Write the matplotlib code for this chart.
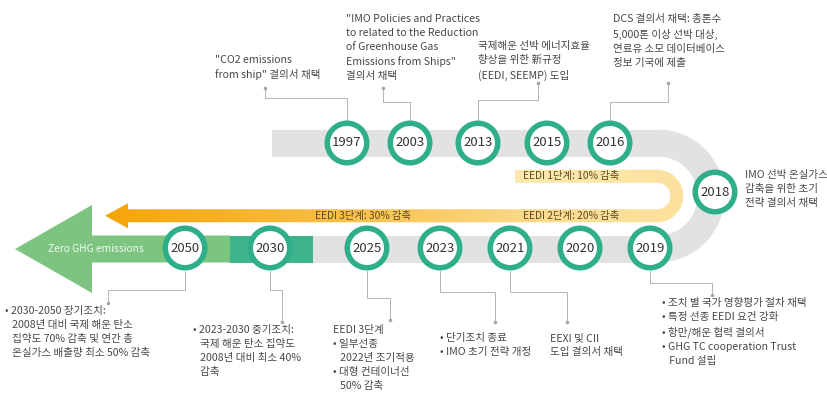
import numpy as np
import matplotlib.pyplot as plt
from matplotlib.patches import Circle, Rectangle, Wedge, Polygon
from matplotlib.colors import LinearSegmentedColormap

plt.rcParams['font.family'] = ['Noto Sans CJK KR', 'DejaVu Sans']

# years on the timeline (upper row left->right, turn, lower row right->left)
top_years = ['1997', '2003', '2013', '2015', '2016']
turn_year = '2018'
bottom_years = ['2019', '2020', '2021', '2023', '2025', '2030', '2050']

# notes attached to the years
notes = {
    '1997': '"CO2 emissions\nfrom ship" 결의서 채택',
    '2003': '"IMO Policies and Practices\nto related to the Reduction\nof Greenhouse Gas\nEmissions from Ships"\n결의서 채택',
    '2013': '국제해운 선박 에너지효율\n향상을 위한 新규정\n(EEDI, SEEMP) 도입',
    '2016': 'DCS 결의서 채택: 총톤수\n5,000톤 이상 선박 대상,\n연료유 소모 데이터베이스\n정보 기국에 제출',
    '2018': 'IMO 선박 온실가스\n감축을 위한 초기\n전략 결의서 채택',
    '2019': '• 조치 별 국가 영향평가 절차 채택\n• 특정 선종 EEDI 요건 강화\n• 항만/해운 협력 결의서\n• GHG TC cooperation Trust\n   Fund 설립',
    '2021': 'EEXI 및 CII\n도입 결의서 채택',
    '2023': '• 단기조치 종료\n• IMO 초기 전략 개정',
    '2025': 'EEDI 3단계\n• 일부선종\n   2022년 조기적용\n• 대형 컨테이너선\n   50% 감축',
    '2030': '• 2023-2030 중기조치:\n   국제 해운 탄소 집약도\n   2008년 대비 최소 40%\n   감축',
    '2050': '• 2030-2050 장기조치:\n   2008년 대비 국제 해운 탄소\n   집약도 70% 감축 및 연간 총\n   온실가스 배출량 최소 50% 감축',
}
eedi_labels = ['EEDI 1단계: 10% 감축', 'EEDI 2단계: 20% 감축', 'EEDI 3단계: 30% 감축']
goal_label = 'Zero GHG emissions'

# ---- layout (pixel coords, y down) ----
top_x = [347, 410, 478, 547, 610]
top_y = 143
bottom_x = [650, 580, 510, 440, 367, 270, 185]
bottom_y = 248
turn_xy = (715, 192)

note_pos = {
    '1997': (215, 55), '2003': (346, 14), '2013': (478, 41), '2016': (613, 14),
    '2018': (745, 170), '2019': (662, 298), '2021': (550, 333), '2023': (440, 333),
    '2025': (333, 325), '2030': (193, 325), '2050': (5, 306),
}
# connector paths from circle to note
links = {
    '1997': [(347, 120), (347, 98), (265, 98), (265, 88)],
    '2003': [(410, 120), (410, 102), (383, 102), (383, 88)],
    '2013': [(478, 120), (478, 100), (538, 100), (538, 83)],
    '2016': [(610, 120), (610, 102), (668, 102), (668, 83)],
    '2050': [(185, 271), (185, 290), (108, 290), (108, 303)],
    '2030': [(270, 271), (270, 290), (282, 290), (282, 322)],
    '2025': [(367, 271), (367, 298), (390, 298), (390, 320)],
    '2023': [(440, 271), (440, 292), (495, 292), (495, 322)],
    '2021': [(510, 271), (510, 292), (567, 292), (567, 322)],
    '2019': [(650, 271), (650, 283), (712, 283), (712, 295)],
}

fig = plt.figure(figsize=(8.27, 4.03), dpi=100)
ax = fig.add_axes([0, 0, 1, 1])
ax.set_xlim(0, 827)
ax.set_ylim(403, 0)
ax.axis('off')

gray = '#e2e2e2'
# gray track with U-turn
gcx, gcy, gr, ghw = 658, 196, 53, 13.5
ax.add_patch(Rectangle((272, gcy - gr - ghw), gcx - 272, 2 * ghw, color=gray, lw=0))
ax.add_patch(Rectangle((300, gcy + gr - ghw), gcx - 300, 2 * ghw, color=gray, lw=0))
ax.add_patch(Wedge((gcx, gcy), gr + ghw, -90, 90, width=2 * ghw, color=gray, lw=0))

# green arrow toward zero emissions
ax.add_patch(Polygon([(15, 249), (92, 205), (92, 235.5), (230, 235.5), (230, 262.5),
                      (92, 262.5), (92, 293)], closed=True, color='#7dc481', lw=0))
ax.add_patch(Rectangle((230, 235.5), 83, 27, color='#3db48e', lw=0))
ax.text(48, 249, goal_label, color='#f2faf2', fontsize=7.4, va='center', ha='left')

# orange/yellow U arrow with gradient along its length
cx, cy, r, hw = 657, 196, 19.75, 6.5
x_start, tip_x, base_x, head_h = 515, 105, 128, 12.5
a1 = np.linspace(-np.pi / 2, np.pi / 2, 60)
outer = [(cx + (r + hw) * np.cos(a), cy + (r + hw) * np.sin(a)) for a in a1]
inner = [(cx + (r - hw) * np.cos(a), cy + (r - hw) * np.sin(a)) for a in a1[::-1]]
shape = ([(x_start, cy - r - hw)] + outer +
         [(base_x, cy + r + hw), (base_x, cy + r + head_h), (tip_x, cy + r),
          (base_x, cy + r - head_h), (base_x, cy + r - hw)] + inner +
         [(x_start, cy - r + hw)])
clip = Polygon(shape, closed=True, transform=ax.transData, facecolor='none', edgecolor='none')
ax.add_patch(clip)

xs = np.linspace(100, 690, 600)
ys = np.linspace(165, 235, 140)
X, Y = np.meshgrid(xs, ys)
L1 = cx - x_start
L2 = np.pi * r
total = L1 + L2 + (cx - tip_x)
s = np.where(Y < cy, X - x_start, L1 + L2 + (cx - X))
ang = np.arctan2(Y - cy, X - cx)
s = np.where(X > cx, L1 + (ang + np.pi / 2) * r, s)
t = np.clip(s / total, 0, 1)
cmap = LinearSegmentedColormap.from_list('eedi', [(0, '#fde9ae'), (0.4, '#fcdc92'),
                                                  (0.55, '#fbcd6a'), (0.75, '#f8b93a'),
                                                  (1, '#f6a509')])
im = ax.imshow(t, cmap=cmap, vmin=0, vmax=1, extent=(100, 690, 235, 165),
               origin='upper', aspect='auto', interpolation='bilinear')
im.set_clip_path(clip)

lab_col = '#5a4a1e'
ax.text(523, cy - r, eedi_labels[0], fontsize=7.4, color=lab_col, va='center')
ax.text(523, cy + r, eedi_labels[1], fontsize=7.4, color=lab_col, va='center')
ax.text(315, cy + r, eedi_labels[2], fontsize=7.4, color=lab_col, va='center')

ax.set_xlim(0, 827)
ax.set_ylim(403, 0)

# connectors
for yr, pts in links.items():
    px, py = zip(*pts)
    ax.plot(px, py, color='#a8a8a8', lw=0.6, zorder=3)
    ax.plot(px[-1], py[-1], 'o', color='#a8a8a8', ms=1.6, zorder=3)

# year circles
ring = '#2fae8a'
def year_circle(x, y, label):
    ax.add_patch(Circle((x, y), 22.5, color=ring, lw=0, zorder=4))
    ax.add_patch(Circle((x, y), 17, color='white', lw=0, zorder=5))
    ax.text(x, y, label, fontsize=9.5, color='#333333', ha='center', va='center', zorder=6)

for x, yr in zip(top_x, top_years):
    year_circle(x, top_y, yr)
year_circle(turn_xy[0], turn_xy[1], turn_year)
for x, yr in zip(bottom_x, bottom_years):
    year_circle(x, bottom_y, yr)

# notes
for yr, txt in notes.items():
    x, y = note_pos[yr]
    ax.text(x, y, txt, fontsize=7.6, color='#474747', ha='left', va='top', linespacing=1.5)

fig.savefig('out.png', dpi=100, facecolor='white')
